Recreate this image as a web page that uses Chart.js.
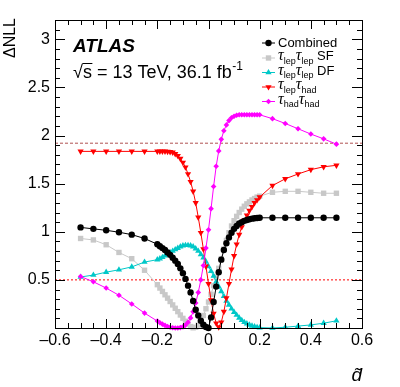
<!DOCTYPE html>
<html><head><meta charset="utf-8">
<script src="https://cdn.jsdelivr.net/npm/chart.js@4.4.1/dist/chart.umd.min.js"></script>
<style>html,body{margin:0;padding:0;background:#fff}#wrap{width:400px;height:387px;position:relative}</style>
</head><body><div id="wrap"><canvas id="c" width="400" height="387"></canvas></div>
<script>
// ---- data ----
const xVals = [-0.5,-0.45,-0.4,-0.35,-0.3,-0.25,
  -0.2,-0.19,-0.18,-0.17,-0.16,-0.15,-0.14,-0.13,-0.12,-0.11,
  -0.1,-0.09,-0.08,-0.07,-0.06,-0.05,-0.04,-0.03,-0.02,-0.01,
  0,0.01,0.02,0.03,0.04,0.05,0.06,0.07,0.08,0.09,
  0.1,0.11,0.12,0.13,0.14,0.15,0.16,0.17,0.18,0.19,0.2,
  0.25,0.3,0.35,0.4,0.45,0.5];

const combined = [1.045,1.03,1.015,0.995,0.97,0.93,
  0.87,0.85,0.83,0.81,0.785,0.76,0.73,0.70,0.665,0.62,
  0.57,0.51,0.44,0.37,0.28,0.19,0.13,0.075,0.035,0.01,
  0.0,0.11,0.27,0.43,0.58,0.71,0.81,0.88,0.94,0.99,
  1.03,1.06,1.085,1.10,1.113,1.122,1.13,1.136,1.14,1.143,1.145,
  1.145,1.145,1.145,1.145,1.145,1.145];

const lepLepSF = [0.93,0.915,0.865,0.785,0.72,0.60,
  0.45,0.415,0.38,0.345,0.31,0.275,0.24,0.205,0.17,0.135,
  0.10,0.07,0.04,0.015,0.002,0.008,0.03,0.07,0.13,0.20,
  0.27,0.35,0.44,0.53,0.62,0.72,0.82,0.91,0.99,1.06,
  1.115,1.16,1.20,1.235,1.265,1.29,1.31,1.33,1.345,1.36,1.37,
  1.41,1.42,1.42,1.41,1.40,1.40];

const lepLepDF = [0.53,0.55,0.58,0.605,0.635,0.685,
  0.71,0.72,0.735,0.75,0.77,0.785,0.80,0.815,0.83,0.845,
  0.855,0.86,0.86,0.855,0.845,0.825,0.80,0.765,0.73,0.69,
  0.64,0.59,0.54,0.48,0.43,0.38,0.33,0.28,0.24,0.20,
  0.165,0.135,0.105,0.08,0.06,0.045,0.032,0.022,0.014,0.008,0.004,
  0.0,0.008,0.02,0.032,0.05,0.075];

const lepHad = [1.835,1.835,1.835,1.835,1.835,1.835,
  1.835,1.835,1.835,1.835,1.833,1.83,1.825,1.81,1.79,1.76,
  1.72,1.67,1.60,1.52,1.42,1.30,1.15,0.99,0.82,0.64,
  0.46,0.29,0.15,0.05,0.01,0.06,0.17,0.31,0.46,0.61,
  0.75,0.87,0.97,1.05,1.12,1.17,1.22,1.26,1.30,1.33,1.36,
  1.48,1.55,1.60,1.645,1.675,1.69];

const hadHad = [0.535,0.48,0.415,0.34,0.25,0.155,
  0.072,0.055,0.04,0.027,0.016,0.008,0.003,0.0,0.0,0.004,
  0.012,0.03,0.06,0.105,0.17,0.26,0.37,0.50,0.65,0.83,
  1.02,1.24,1.47,1.68,1.84,1.96,2.05,2.11,2.155,2.185,
  2.2,2.21,2.215,2.215,2.215,2.215,2.215,2.215,2.215,2.215,2.215,
  2.175,2.125,2.07,2.015,1.965,1.91];

const refLevels = [0.5, 1.92];
const xRange = [-0.6, 0.6];
const yRange = [0, 3.2];
const xTickLabels = [-0.6,-0.4,-0.2,0,0.2,0.4,0.6];
const yTickLabels = [0.5,1,1.5,2,2.5,3];

// ---- styles ----
const series = [
  {name:'Combined', data:combined, color:'#000000', style:'circle', r:3.2, rot:0,
   legend:[['Combined','n']]},
  {name:'hadhad', data:hadHad, color:'#ff00ff', style:'rectRot', r:2.8, rot:0,
   legend:[['τ','t'],['had','s'],['τ','t'],['had','s']]},
  {name:'lephad', data:lepHad, color:'#ff0000', style:'triangle', r:3.6, rot:180,
   legend:[['τ','t'],['lep','s'],['τ','t'],['had','s']]},
  {name:'DF', data:lepLepDF, color:'#00c8c8', style:'triangle', r:3.6, rot:0,
   legend:[['τ','t'],['lep','s'],['τ','t'],['lep','s'],[' DF','n']]},
  {name:'SF', data:lepLepSF, color:'#c8c8c8', style:'rect', r:3.8, rot:0,
   legend:[['τ','t'],['lep','s'],['τ','t'],['lep','s'],[' SF','n']]}
];
const legendOrder = ['Combined','SF','DF','lephad','hadhad'];

const FONT = '"Liberation Sans", Arial, Helvetica, sans-serif';

function pts(arr){ return xVals.map((x,i)=>({x:x, y:arr[i]})); }

const datasets = series.map(s => ({
  label: s.name, data: pts(s.data), showLine: true,
  borderColor: s.color, backgroundColor: s.color, borderWidth: 1,
  pointStyle: s.style, pointRadius: s.r, pointHoverRadius: s.r, pointRotation: s.rot,
  pointBackgroundColor: s.color, pointBorderColor: s.color, pointBorderWidth: 0,
  tension: 0, clip: false
}));
refLevels.forEach((lv, i) => datasets.push({
  label: 'ref'+i, data: xRange.map(x => ({x:x, y:lv})), showLine: true,
  borderColor: i===0 ? '#ff0000' : '#b05050', borderWidth: 1, borderDash: i===0 ? [2,2] : [3,2],
  pointRadius: 0, pointHoverRadius: 0, tension: 0
}));

function drawMarker(ctx, s, x, y){
  ctx.save();
  ctx.fillStyle = s.color; ctx.strokeStyle = s.color;
  if (Chart.helpers && Chart.helpers.drawPoint) {
    Chart.helpers.drawPoint(ctx, {pointStyle:s.style, radius:s.r, rotation:s.rot, borderWidth:0}, x, y);
  }
  ctx.restore();
}

function drawRich(ctx, parts, x, base){
  let cx = x;
  for (const [txt, kind] of parts){
    let font, dy = 0;
    if (kind === 'n') font = '13px ' + FONT;
    else if (kind === 't') font = 'italic 16px "Liberation Serif", "DejaVu Serif", serif';
    else { font = '9px ' + FONT; dy = 3.5; }
    ctx.font = font;
    ctx.fillText(txt, cx, base + dy);
    cx += ctx.measureText(txt).width;
  }
}

const overlay = {
  id: 'overlay',
  afterDatasetsDraw(chart){
    const ctx = chart.ctx, a = chart.chartArea, xs = chart.scales.x, ys = chart.scales.y;
    ctx.save();
    ctx.strokeStyle = '#000'; ctx.lineWidth = 1;
    ctx.strokeRect(Math.round(a.left)+0.5, Math.round(a.top)+0.5,
                   Math.round(a.right-a.left), Math.round(a.bottom-a.top));
    ctx.beginPath();
    for (let k = -12; k <= 12; k++) {           // x ticks every 0.05
      const v = k * 0.05;
      const px = Math.round(xs.getPixelForValue(v)) + 0.5;
      const L = (k % 4 === 0) ? 9 : 5;
      ctx.moveTo(px, a.bottom); ctx.lineTo(px, a.bottom - L);
      ctx.moveTo(px, a.top); ctx.lineTo(px, a.top + L);
    }
    for (let k = 0; k <= 32; k++) {             // y ticks every 0.1
      const v = k / 10;
      const py = Math.round(ys.getPixelForValue(v)) + 0.5;
      const L = (k % 5 === 0) ? 10 : 5;
      ctx.moveTo(a.left, py); ctx.lineTo(a.left + L, py);
      ctx.moveTo(a.right, py); ctx.lineTo(a.right - L, py);
    }
    ctx.stroke();

    // axis titles
    ctx.fillStyle = '#000';
    ctx.save();
    ctx.translate(15, 18); ctx.rotate(-Math.PI/2);
    ctx.font = '16px ' + FONT; ctx.textAlign = 'right'; ctx.textBaseline = 'alphabetic';
    ctx.fillText('ΔNLL', 0, 0);
    ctx.restore();
    ctx.font = 'italic 19px ' + FONT; ctx.textAlign = 'right'; ctx.textBaseline = 'alphabetic';
    ctx.fillText('d\u0303', 362, 381);

    // ATLAS label
    ctx.textAlign = 'left';
    ctx.font = 'bold italic 19px ' + FONT;
    ctx.fillText('ATLAS', 73, 52);
    ctx.font = '18px ' + FONT;
    const sq = '\u221A';
    ctx.fillText(sq, 73, 77.5);
    const wsq = ctx.measureText(sq).width;
    ctx.fillText('s = 13 TeV, 36.1 fb', 73 + wsq, 77.5);
    const ws = ctx.measureText('s').width;
    const wAll = ctx.measureText('s = 13 TeV, 36.1 fb').width;
    ctx.beginPath(); ctx.moveTo(73 + wsq - 0.5, 63.5); ctx.lineTo(73 + wsq + ws + 0.5, 63.5); ctx.stroke();
    ctx.font = '12px ' + FONT;
    ctx.fillText('-1', 73 + wsq + wAll + 0.5, 70);

    // legend
    const rows = [42.5, 57.5, 72, 86.5, 101];
    legendOrder.forEach((nm, i) => {
      const s = series.find(q => q.name === nm);
      const y = rows[i];
      ctx.strokeStyle = s.color; ctx.lineWidth = 1;
      ctx.beginPath(); ctx.moveTo(262, y + 0.5); ctx.lineTo(275, y + 0.5); ctx.stroke();
      drawMarker(ctx, s, 268.5, y + 0.5);
      ctx.fillStyle = '#000'; ctx.textAlign = 'left'; ctx.textBaseline = 'alphabetic';
      drawRich(ctx, s.legend, 278, nm === 'Combined' ? y + 4.5 : y + 2.5);
    });
    ctx.restore();
  }
};

function fmt(v){ const r = Math.round(v*100)/100; return r < 0 ? '\u2013' + String(-r) : String(r); }

new Chart(document.getElementById('c'), {
  type: 'scatter',
  data: { datasets: datasets },
  options: {
    responsive: false, animation: false, devicePixelRatio: 1,
    layout: { padding: { left: 0, right: 38, top: 20, bottom: 0 } },
    plugins: { legend: { display: false }, tooltip: { enabled: false } },
    events: [],
    scales: {
      x: {
        type: 'linear', min: xRange[0], max: xRange[1],
        afterBuildTicks: s => { s.ticks = xTickLabels.map(v => ({value: v})); },
        afterFit: s => { s.height = 59; },
        grid: { display: false, drawTicks: false }, border: { display: false },
        ticks: { autoSkip: false, maxRotation: 0, padding: 3, color: '#000',
                 font: { family: FONT, size: 16 }, callback: v => fmt(v) }
      },
      y: {
        type: 'linear', min: yRange[0], max: yRange[1],
        afterBuildTicks: s => { s.ticks = yTickLabels.map(v => ({value: v})); },
        afterFit: s => { s.width = 55; },
        grid: { display: false, drawTicks: false }, border: { display: false },
        ticks: { autoSkip: false, padding: 5, color: '#000',
                 font: { family: FONT, size: 16 }, callback: v => fmt(v) }
      }
    }
  },
  plugins: [overlay]
});
</script></body></html>
